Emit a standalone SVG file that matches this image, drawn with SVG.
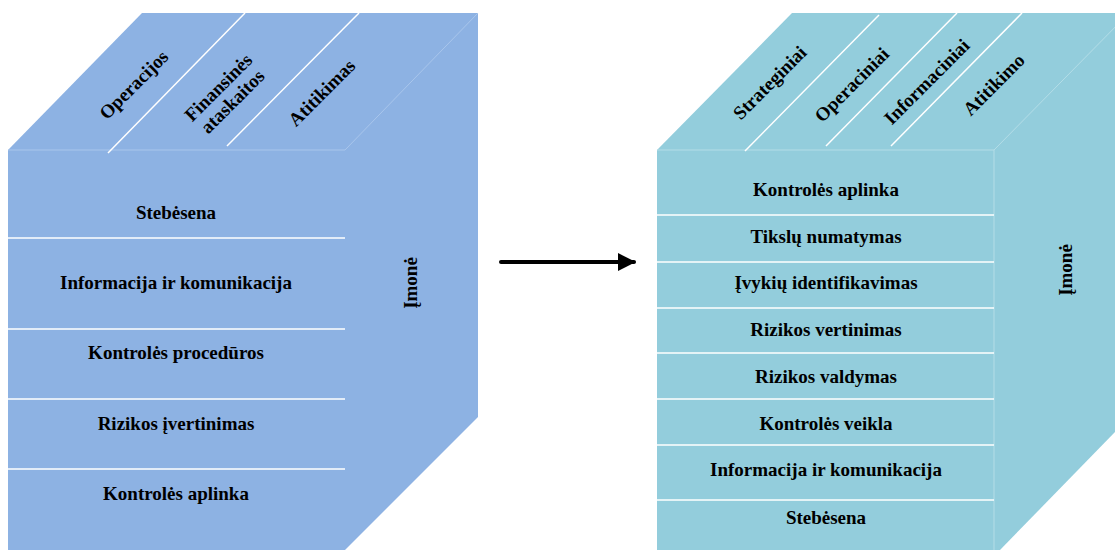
<svg xmlns="http://www.w3.org/2000/svg" width="1115" height="550" viewBox="0 0 1115 550">
  <defs>
    <style>
      .lbl { font-family: 'Liberation Serif', 'DejaVu Serif', serif; font-weight: 700; font-size: 19px; fill: #000; text-anchor: middle; }
      .div { stroke: #ffffff; stroke-width: 1.5; }
      .faint { stroke: #a9c6ec; stroke-width: 1; }
      .faint2 { stroke: #b4dde7; stroke-width: 1; }
      .blue { fill: #8db2e3; }
      .aqua { fill: #93cddc; }
    </style>
    <marker id="arrowhead" viewBox="0 0 10 10" refX="9" refY="5" markerWidth="4.5" markerHeight="4.5" orient="auto" markerUnits="strokeWidth">
      <path d="M0,0 L10,5 L0,10 Z" fill="#000"/>
    </marker>
  </defs>

  <!-- COSO cube (left) -->
  <g id="cube-left">
    <polygon class="blue" points="8,150 142,13 478,13 478,417 345,550 8,550"/>
    <line class="faint" x1="8" y1="150" x2="345" y2="150"/>
    <line class="faint" x1="345" y1="150" x2="478" y2="13"/>
    <!-- top face dividers -->
    <line class="div" x1="108" y1="153" x2="245" y2="13"/>
    <line class="div" x1="227" y1="146" x2="359" y2="13"/>
    <!-- front face dividers -->
    <line class="div" x1="8" y1="238" x2="345" y2="238"/>
    <line class="div" x1="8" y1="329" x2="345" y2="329"/>
    <line class="div" x1="8" y1="399" x2="345" y2="399"/>
    <line class="div" x1="8" y1="469" x2="345" y2="469"/>
    <!-- top face labels -->
    <text class="lbl" transform="translate(134,85) rotate(-45)" dy="6">Operacijos</text>
    <text class="lbl" transform="translate(225,94) rotate(-45)"><tspan x="0" dy="-3">Finansinės</tspan><tspan x="0" dy="20">ataskaitos</tspan></text>
    <text class="lbl" transform="translate(322,93) rotate(-45)" dy="6">Atitikimas</text>
    <!-- front face labels -->
    <text class="lbl" x="176" y="219">Stebėsena</text>
    <text class="lbl" x="176" y="289">Informacija ir komunikacija</text>
    <text class="lbl" x="176" y="359">Kontrolės procedūros</text>
    <text class="lbl" x="176" y="430">Rizikos įvertinimas</text>
    <text class="lbl" x="176" y="500">Kontrolės aplinka</text>
    <!-- side face label -->
    <text class="lbl" transform="translate(411,283) rotate(-90)" dy="6">Įmonė</text>
  </g>

  <!-- connector -->
  <g id="connectors">
    <line x1="501" y1="262" x2="634" y2="262" stroke="#000" stroke-width="4" stroke-linecap="round" marker-end="url(#arrowhead)"/>
  </g>

  <!-- ERM cube (right) -->
  <g id="cube-right">
    <polygon class="aqua" points="657,150 792,13 1115,13 1115,432 1000,550 657,550"/>
    <line class="faint2" x1="657" y1="150" x2="994" y2="150"/>
    <line class="faint2" x1="994" y1="150" x2="1129" y2="13"/>
    <line class="faint2" x1="994" y1="150" x2="994" y2="550"/>
    <!-- top face dividers -->
    <line class="div" x1="745" y1="151" x2="879" y2="15"/>
    <line class="div" x1="826" y1="146" x2="957" y2="13"/>
    <line class="div" x1="891" y1="146" x2="1022" y2="13"/>
    <!-- front face dividers -->
    <line class="div" x1="657" y1="215" x2="994" y2="215"/>
    <line class="div" x1="657" y1="262" x2="994" y2="262"/>
    <line class="div" x1="657" y1="308" x2="994" y2="308"/>
    <line class="div" x1="657" y1="353" x2="994" y2="353"/>
    <line class="div" x1="657" y1="399" x2="994" y2="399"/>
    <line class="div" x1="657" y1="445" x2="994" y2="445"/>
    <line class="div" x1="657" y1="500" x2="994" y2="500"/>
    <!-- top face labels -->
    <text class="lbl" transform="translate(770,83) rotate(-45)" dy="6">Strateginiai</text>
    <text class="lbl" transform="translate(852,85) rotate(-45)" dy="6">Operaciniai</text>
    <text class="lbl" transform="translate(927,82) rotate(-45)" dy="6">Informaciniai</text>
    <text class="lbl" transform="translate(994,85) rotate(-45)" dy="6">Atitikimo</text>
    <!-- front face labels -->
    <text class="lbl" x="826" y="196">Kontrolės aplinka</text>
    <text class="lbl" x="826" y="243">Tikslų numatymas</text>
    <text class="lbl" x="826" y="289">Įvykių identifikavimas</text>
    <text class="lbl" x="826" y="336">Rizikos vertinimas</text>
    <text class="lbl" x="826" y="383">Rizikos valdymas</text>
    <text class="lbl" x="826" y="430">Kontrolės veikla</text>
    <text class="lbl" x="826" y="476">Informacija ir komunikacija</text>
    <text class="lbl" x="826" y="524">Stebėsena</text>
    <!-- side face label -->
    <text class="lbl" transform="translate(1066,270) rotate(-90)" dy="6">Įmonė</text>
  </g>
</svg>
